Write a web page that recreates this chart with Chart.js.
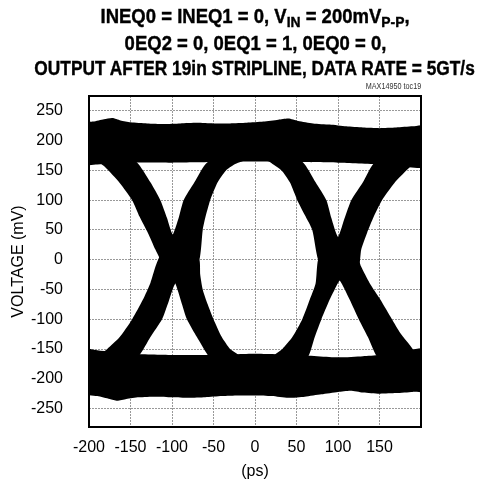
<!DOCTYPE html>
<html>
<head>
<meta charset="utf-8">
<script src="https://cdn.jsdelivr.net/npm/chart.js@4/dist/chart.umd.min.js"></script>
<style>
  html, body { margin: 0; padding: 0; background: #fff; overflow: hidden; }
  #wrap { position: relative; width: 478px; height: 485px; overflow: hidden; }
  #chart { position: absolute; left: 0; top: 0; }
  .title {
    position: absolute; left: 0; top: 4px; width: 510px; text-align: center;
    font: bold 20px 'Liberation Sans', Arial, sans-serif;
    line-height: 25.5px; color: #000; white-space: nowrap;
    -webkit-text-stroke: 0.4px #000;
  }
  .title .line { display: inline-block; transform: scaleX(0.925); }
  .title .line.wide { transform: scaleX(0.865); }
  .title .sub { font-size: 15px; position: relative; top: 4px; }
  .note {
    position: absolute; right: 57px; top: 81px;
    font: 8.5px 'Liberation Sans', Arial, sans-serif; color: #333;
    transform: scaleX(0.85); transform-origin: 100% 0;
  }
</style>
</head>
<body>
<div id="wrap">
  <canvas id="chart" width="478" height="485"></canvas>
  <div class="title"><span class="line">INEQ0 = INEQ1 = 0, V<span class="sub">IN</span> = 200mV<span class="sub">P-P</span>,</span><br><span class="line">0EQ2 = 0, 0EQ1 = 1, 0EQ0 = 0,</span><br><span class="line wide">OUTPUT AFTER 19in STRIPLINE, DATA RATE = 5GT/s</span></div>
  <div class="note">MAX14950 toc19</div>
</div>
<script>
// axis ticks
const xTicks = [-200, -150, -100, -50, 0, 50, 100, 150];
const yTicks = [250, 200, 150, 100, 50, 0, -50, -100, -150, -200, -250];

// eye diagram outlines, [ps, mV]
// rails: outer edge and inner edge, left to right
const topRailOuter = [[-205, 231], [-195, 232], [-182, 236], [-172, 238], [-162, 234], [-150, 231], [-130, 229], [-110, 228], [-90, 229], [-70, 230], [-50, 229], [-30, 229], [-10, 230], [10, 232], [28, 235], [40, 237], [52, 233], [70, 229], [90, 227], [110, 224], [130, 222], [150, 221], [170, 222], [190, 224], [205, 225]];
const topRailInner = [[-205, 158], [-190, 160], [-150, 163], [-100, 163], [-50, 164], [0, 165], [50, 164], [100, 163], [150, 160], [175, 157], [205, 156]];
const bottomRailOuter = [[-205, -227], [-190, -229], [-175, -234], [-166, -237], [-155, -234], [-140, -231], [-120, -230], [-100, -231], [-80, -232], [-60, -231], [-40, -229], [-20, -228], [0, -228], [20, -229], [40, -232], [60, -230], [80, -226], [100, -222], [115, -220], [130, -223], [150, -225], [170, -224], [190, -222], [205, -221]];
const bottomRailInner = [[-205, -148], [-190, -152], [-150, -158], [-100, -160], [-50, -160], [0, -158], [50, -160], [100, -164], [130, -162], [150, -160], [175, -155], [205, -150]];

// transition bands: left and right edges, top to bottom
const x1FallLeft = [[-212, 195], [-196, 172], [-181, 156], [-163, 129], [-148, 100], [-139, 72], [-129, 45], [-120, 17], [-114, 0], [-106, -20], [-96, -40], [-89, -70], [-82, -100], [-70, -130], [-57, -160], [-45, -180], [-25, -195]];
const x1FallRight = [[-180, 198], [-158, 183], [-140, 160], [-126, 130], [-114, 100], [-106, 70], [-99, 42], [-78, 20], [-67, 0], [-66, -25], [-63, -50], [-57, -75], [-50, -100], [-40, -130], [-30, -150], [-18, -162], [-12, -178], [0, -195]];
const x1RiseLeft = [[-20, 195], [-42, 180], [-60, 160], [-73, 130], [-86, 100], [-92, 70], [-99, 42], [-112, 15], [-120, -12], [-126, -39], [-135, -67], [-148, -100], [-163, -130], [-178, -150], [-195, -170], [-215, -195]];
const x1RiseRight = [[10, 195], [-5, 180], [-12, 168], [-25, 160], [-35, 150], [-45, 130], [-54, 100], [-60, 70], [-63, 50], [-67, 0], [-78, -20], [-96, -40], [-104, -70], [-112, -100], [-126, -130], [-139, -160], [-160, -182], [-185, -197]];
const x2FallLeft = [[-20, 197], [0, 182], [12, 170], [20, 162], [32, 150], [42, 130], [51, 100], [60, 75], [69, 50], [76, 0], [86, -20], [102, -35], [114, -67], [125, -100], [136, -130], [147, -163], [165, -185], [190, -200]];
const x2FallRight = [[20, 198], [42, 182], [60, 160], [73, 130], [86, 100], [92, 70], [100, 38], [122, 10], [128, -12], [138, -39], [151, -67], [165, -100], [175, -123], [190, -150], [200, -178], [220, -200]];
const x2RiseLeft = [[185, 197], [162, 182], [142, 160], [130, 130], [116, 100], [108, 70], [100, 38], [86, 20], [76, 0], [73, -40], [66, -67], [57, -100], [45, -130], [33, -150], [22, -162], [18, -178], [10, -198]];
const x2RiseRight = [[225, 197], [205, 178], [187, 156], [168, 129], [153, 100], [143, 72], [135, 45], [128, 17], [125, -12], [113, -25], [102, -35], [96, -50], [90, -67], [80, -100], [72, -130], [64, -163], [45, -185], [25, -200]];

// one closed outline from two edges
function outline(a, b) {
    return a.concat(b.slice().reverse()).map(([x, y]) => ({ x, y }));
}

function band(a, b) {
    return {
        data: outline(a, b),
        fill: 'shape',
        backgroundColor: '#000',
        borderColor: '#000',
        borderWidth: 0,
        pointRadius: 0,
        tension: 0.2
    };
}

const frame = {
    id: 'frame',
    afterDatasetsDraw(chart) {
        const { ctx, chartArea: a } = chart;
        ctx.save();
        ctx.strokeStyle = '#000';
        ctx.lineWidth = 2;
        ctx.strokeRect(a.left, a.top, a.right - a.left, a.bottom - a.top);
        ctx.restore();
    }
};

const axisFont = { family: "'Liberation Sans', Arial, sans-serif", size: 16 };

new Chart(document.getElementById('chart').getContext('2d'), {
    type: 'line',
    data: {
        datasets: [
            band(topRailOuter, topRailInner),
            band(bottomRailInner, bottomRailOuter),
            band(x1FallLeft, x1FallRight),
            band(x1RiseLeft, x1RiseRight),
            band(x2FallLeft, x2FallRight),
            band(x2RiseLeft, x2RiseRight)
        ]
    },
    options: {
        responsive: false,
        animation: false,
        events: [],
        layout: { padding: { top: 96, right: 57, bottom: 0, left: 0 } },
        plugins: {
            legend: { display: false },
            tooltip: { enabled: false },
            title: { display: false }
        },
        scales: {
            x: {
                type: 'linear',
                min: -200,
                max: 200,
                afterBuildTicks: s => { s.ticks = xTicks.map(v => ({ value: v })); },
                afterFit: s => { s.height = 58; },
                grid: { color: '#999', drawTicks: false },
                border: { display: false, dash: [2, 1] },
                ticks: { color: '#000', padding: 11, font: axisFont, maxRotation: 0, autoSkip: false },
                title: { display: true, text: '(ps)', color: '#000', font: axisFont, padding: { top: 2, bottom: 4 } }
            },
            y: {
                type: 'linear',
                min: -281,
                max: 275,
                afterBuildTicks: s => { s.ticks = yTicks.map(v => ({ value: v })); },
                afterFit: s => { s.width = 89; },
                grid: { color: '#999', drawTicks: false },
                border: { display: false, dash: [2, 1] },
                ticks: { color: '#000', padding: 26, font: axisFont, autoSkip: false },
                title: { display: true, text: 'VOLTAGE (mV)', color: '#000', font: axisFont, padding: { top: 9, bottom: 0 } }
            }
        }
    },
    plugins: [frame]
});
</script>
</body>
</html>
